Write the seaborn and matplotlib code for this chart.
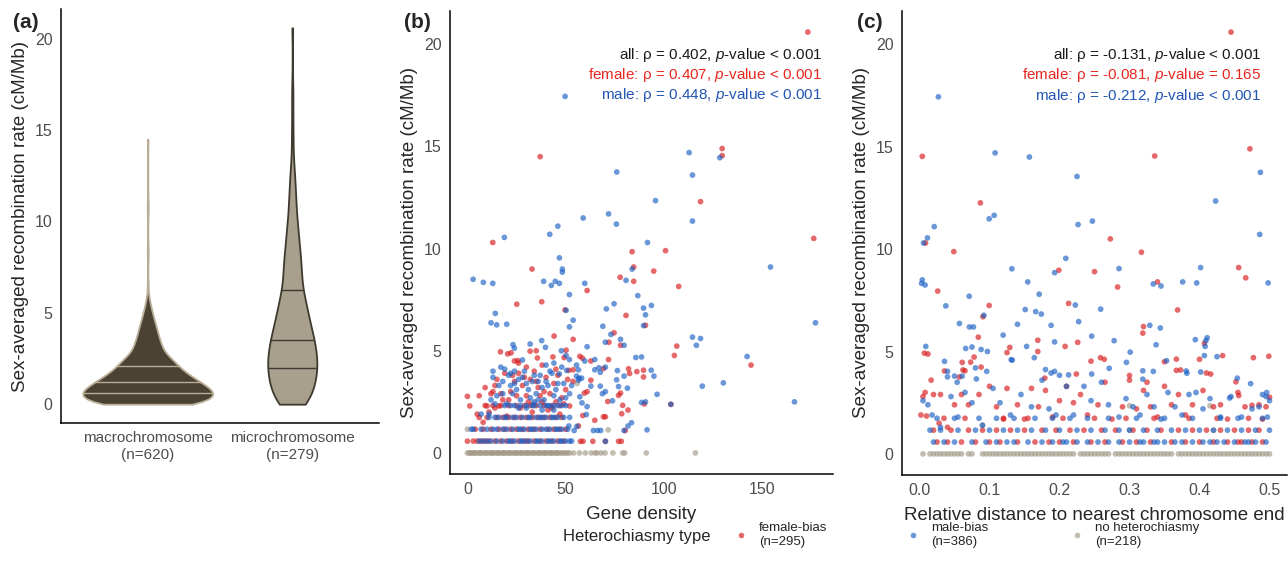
import numpy as np
import pandas as pd
import matplotlib
matplotlib.use("Agg")
import matplotlib.pyplot as plt
import seaborn as sns

sns.set_style("white")
plt.rcParams['font.family'] = ['Liberation Sans', 'DejaVu Sans']
plt.rcParams['mathtext.fontset'] = 'custom'
plt.rcParams['mathtext.rm'] = 'Liberation Sans'
plt.rcParams['mathtext.it'] = 'Liberation Sans:italic'

# ---- panel (a): violin data, value levels and how many windows sit at each
macro_levels = [0.0, 0.3, 0.6, 0.9, 1.2, 1.5, 1.8, 2.1, 2.4, 2.7, 3.0, 3.3, 3.6, 3.9, 4.2, 4.5, 4.8, 5.1, 5.4,
                5.7, 6.0, 6.6, 8.0, 8.6, 10.5, 11.0, 14.5]
macro_counts = [70, 73, 78, 70, 58, 51, 39, 34, 30, 20, 17, 15, 13, 11, 10, 8, 6, 5, 3, 2, 1, 1, 1, 1, 1, 1, 1]
micro_levels = [0.0, 0.5, 1.0, 1.5, 2.0, 2.5, 3.0, 3.5, 4.0, 4.5, 5.0, 5.5, 6.0, 6.5, 7.0, 7.5, 8.0, 8.5, 9.0,
                9.5, 10.0, 10.5, 11.0, 11.5, 12.0, 12.5, 13.0, 14.0, 14.6, 15.5, 16.5, 17.4, 20.6]
micro_counts = [15, 16, 18, 19, 21, 20, 19, 18, 16, 14, 12, 12, 9, 7, 8, 7, 7, 6, 5, 5, 4, 3, 3, 3, 2, 2, 2,
                1, 1, 1, 1, 1, 1]
chrom_labels = ["macrochromosome\n(n=620)", "microchromosome\n(n=279)"]

# ---- panel (b): gene density vs recombination rate
b_female = [(173.2,20.6),(37,14.5),(129.6,14.9),(129.6,14.55),(118.6,12.3),(12.9,10.3),(176.2,10.5),(83.8,9.85),
            (100.8,9.9),(32.9,9.0),(84.6,9.1),(77.7,8.6),(84.6,8.4),(94.8,8.9),(60.9,7.95),(107.5,8.15),(25.1,7.28),
            (37.8,7.4),(49.7,7.0),(80.7,6.73),(90.6,6.25),(74.6,5.88),(77.9,5.27),(72,5.42),(53.8,5.56),(44.1,5.72),
            (31.9,4.98),(35,5.0),(35.6,4.65),(16.8,4.95),(20.5,4.85),(22.2,4.9),(23.9,4.5),(25.6,4.52),(43.5,4.7),
            (50.2,5.03),(49.2,4.67),(57.2,4.73),(58.5,4.64),(62.8,4.5),(71.8,4.57),(86.2,3.98),(89.6,4.05),(89.6,3.72),
            (82,4.12),(82.5,3.89),(105.3,4.77),(106.5,5.23),(144.3,4.3),(103.5,2.38),(90,2.4),(79,2.33),(78.5,1.92),
            (81.7,2.1),(80.3,1.1),(76.9,2.82),(77.9,2.93),(69.2,4.13),(62.8,3.56),(71.4,2.52),(69.2,1.77),(70.2,1.77),
            (64.8,1.6),(70.2,0.57),(63.8,0.57),(58.8,0.57),(57.5,0.57),(76.9,0.57),(78.3,0.57),(58.7,1.83),(56.5,1.32),
            (60.9,3.0),(59.5,2.93),(53.7,3.5),(53.8,4.07),(51.6,4.04),(0,2.77),(1.2,2.3),(0,0.58),
            (5,1.9),(8,1.5),(10,2.3),(12,2.9),(13,3.0),(14,3.3),(16,2.3),(18,2.6),(20,1.8),(22,3.0),(24,3.5),(26,3.9),
            (28,3.3),(30,2.8),(32,3.6),(34,4.0),(36,3.2),(38,2.5),(40,3.7),(42,2.9),(44,3.4),(46,3.8),(48,2.7),(50,3.1),
            (52,2.3),(19,3.9),(27,2.2),(33,2.0),(37,2.8),(41,2.1),(45,2.5),(47,1.9),
            (6,2.8),(9,3.2),(11,2.0),(15,3.6),(17,2.9),(21,2.6),(23,3.8),(25,2.8),(29,3.7),(31,2.5),(35,3.5),(39,3.0),
            (43,2.2),(45,4.1),(49,2.4),(51,3.6),(26,4.4),(30,4.2),(14,2.2),(38,4.3),
            (3,0.58),(5,0.58),(7,0.58),(9,0.58),(11,0.58),(14,0.58),(17,0.58),(20,0.58),(23,0.58),(26,0.58),(29,0.58),
            (31,0.58),(34,0.58),(37,0.58),(40,0.58),(43,0.58),(46,0.58),(49,0.58),
            (4,1.16),(8,1.16),(12,1.16),(16,1.16),(19,1.16),(22,1.16),(25,1.16),(28,1.16),(31,1.16),(34,1.16),(37,1.16),
            (41,1.16),(44,1.16),(47,1.16),(50,1.16),
            (6,1.74),(10,1.74),(15,1.74),(18,1.74),(21,1.74),(24,1.74),(27,1.74),(30,1.74),(33,1.74),(36,1.74),(39,1.74),
            (42,1.74),(45,1.74),(48,1.74),
            (9,2.32),(13,2.32),(17,2.32),(21,2.32),(25,2.32),(29,2.32),(32,2.32),(35,2.32),(39,2.32),(43,2.32),(47,2.32)]
b_male = [(49.7,17.45),(112.8,14.7),(128.4,14.45),(76,13.75),(114.5,13.6),(95.7,12.35),(58.9,11.5),(71.8,11.7),
          (75.8,11.2),(114.5,11.35),(46,11.1),(41.9,10.7),(18.8,10.55),(91.6,10.3),(46.8,9.55),(154.2,9.1),(48.3,9.0),
          (48.3,8.85),(83.8,9.0),(80.7,8.45),(2.9,8.5),(8.1,8.35),(12.9,8.3),(38.8,8.4),(44.7,8.4),(42.7,8.2),(46.8,8.3),
          (59.7,8.3),(51.9,7.75),(86.7,7.7),(177.1,6.37),(14.2,6.83),(12,6.37),(14.9,6.27),(20,6.3),(50.2,6.98),
          (53.8,6.5),(51.9,6.17),(74.6,7.3),(70.7,7.05),(68.9,6.2),(89.6,7.09),(90.6,6.76),(93.6,7.22),(89.6,6.23),
          (73,5.8),(77.9,5.56),(79.7,5.27),(70.2,5.42),(37.8,5.5),(39.7,5.17),(31.9,5.33),(23.2,5.3),(23.9,5.13),
          (28,4.55),(47.8,5.0),(50.2,4.77),(51.9,4.57),(59.7,4.5),(60.9,5.2),(64.8,4.57),(85.7,4.67),(88.6,4.7),
          (93.5,4.05),(94.9,3.76),(79.7,3.76),(81.4,3.17),(114.5,5.67),(118.6,5.6),(116.5,5.27),(119.5,3.27),
          (130.2,3.43),(142.3,4.72),(166.4,2.5),(103.5,2.38),(96.5,2.87),(91.4,1.13),(90.6,2.5),(88.6,2.47),
          (83.5,1.48),(81.7,1.32),(79.7,1.1),(76.9,3.25),(75.9,3.58),(76.3,4.03),(70.2,4.2),(64.8,4.07),(67.6,3.95),
          (66.9,4.17),(62.8,3.27),(67.6,3.27),(68.7,2.9),(70.2,3.0),(73.8,2.55),(66.2,1.1),(67.8,1.1),(64.1,1.1),
          (70.2,0.57),(60.9,2.27),(60.5,1.88),(54.3,1.1),(55.7,1.3),(51.6,1.32),(57.2,2.75),(58.3,2.45),(56.5,3.56),
          (55.5,3.76),(56.8,3.66),(58.1,3.66),(55.5,4.3),(56.5,4.07),(50.5,4.04),(46.8,3.87),
          (3,1.16),(13,4.0),(13,3.7),(17,4.2),(18,3.5),(19,4.1),(21,3.8),(22,3.3),(24,4.0),(26,3.6),(29,4.0),(31,3.1),
          (33,3.5),(35,2.9),(37,3.8),(39,2.6),(41,3.3),(43,3.9),(45,3.1),(47,2.6),(49,3.4),(52,2.9),(15,2.8),(20,2.4),
          (23,2.9),(27,2.6),(30,3.4),(34,2.5),(38,3.2),(42,2.3),(44,2.8),(36,3.5),(25,3.1),(11,1.9),(7,1.9),(40,4.3),
          (44,4.4),
          (14,2.4),(16,3.3),(18,2.9),(22,3.9),(26,2.2),(28,3.7),(32,2.7),(34,3.8),(36,2.6),(40,3.5),(42,4.0),(46,3.4),
          (48,4.2),(50,2.7),(53,3.3),(12,2.6),(24,3.4),(30,2.2),(38,2.1),(44,2.1),
          (6,0.58),(8,0.58),(10,0.58),(12,0.58),(15,0.58),(18,0.58),(21,0.58),(22,0.58),(24,0.58),(27,0.58),(28,0.58),
          (30,0.58),(32,0.58),(35,0.58),(36,0.58),(38,0.58),(41,0.58),(42,0.58),(44,0.58),(47,0.58),(48,0.58),
          (50,0.58),(52,0.58),(53,0.58),
          (2,1.16),(7,1.16),(10,1.16),(13,1.16),(15,1.16),(18,1.16),(20,1.16),(23,1.16),(26,1.16),(27,1.16),(29,1.16),
          (32,1.16),(33,1.16),(35,1.16),(38,1.16),(40,1.16),(42,1.16),(45,1.16),(46,1.16),(48,1.16),(51,1.16),
          (11,1.74),(14,1.74),(16,1.74),(19,1.74),(20,1.74),(23,1.74),(25,1.74),(28,1.74),(31,1.74),(32,1.74),
          (35,1.74),(37,1.74),(38,1.74),(40,1.74),(43,1.74),(44,1.74),(46,1.74),(49,1.74),(52,1.74),
          (19,2.32),(22,2.32),(24,2.32),(27,2.32),(30,2.32),(33,2.32),(34,2.32),(37,2.32),(40,2.32),(41,2.32),
          (44,2.32),(46,2.32),(48,2.32),(50,2.32)]
b_none = [(0,0),(1,0),(1.5,0),(2,0),(3,0),(3.5,0),(4,0),(5,0),(6,0),(6.5,0),(7,0),(8,0),(9,0),(9.5,0),(10,0),(11,0),
          (12,0),(12.5,0),(13,0),(14,0),(15,0),(15.5,0),(16,0),(17,0),(18,0),(18.5,0),(19,0),(20,0),(21,0),(21.5,0),
          (22,0),(23,0),(24,0),(24.5,0),(25,0),(26,0),(27,0),(27.5,0),(28,0),(29,0),(30,0),(30.5,0),(31,0),(32,0),
          (33,0),(33.5,0),(34,0),(35,0),(36,0),(36.5,0),(37,0),(38,0),(39,0),(39.5,0),(40,0),(41,0),(42,0),(42.5,0),
          (43,0),(44,0),(45,0),(45.5,0),(46,0),(47,0),(48,0),(49,0),(50,0),(51,0),(52,0),(54,0),(57,0),(60,0),(63,0),
          (65,0),(66,0),(68,0),(70,0),(74,0),(79,0),(80,0),(91,0),(116,0),
          (0,1.16),(33.4,2.43),(55.8,3.4),(71.6,1.13)]

# ---- panel (c): relative distance to nearest chromosome end vs recombination rate
c_female = [(0.445,20.6),(0.004,14.53),(0.336,14.55),(0.472,14.9),(0.087,12.26),(0.0086,10.3),(0.2726,10.5),
            (0.049,9.88),(0.317,9.85),(0.456,9.1),(0.199,8.97),(0.25,8.9),(0.466,8.6),(0.34,8.4),(0.283,8.15),
            (0.026,7.95),(0.0995,7.25),(0.0906,6.7),(0.213,7.35),(0.3687,7.03),(0.32,6.22),(0.319,5.9),(0.084,5.7),
            (0.169,5.55),(0.226,5.45),(0.407,5.4),(0.208,5.25),(0.125,4.95),(0.129,5.2),(0.169,5.0),(0.007,4.92),
            (0.012,4.88),(0.0357,4.05),(0.061,4.47),(0.062,4.1),(0.065,4.06),(0.057,3.76),(0.073,4.48),(0.078,4.73),
            (0.088,4.24),(0.0166,3.6),(0.179,3.7),(0.224,3.9),(0.245,4.53),(0.2585,4.7),(0.264,4.62),(0.3,3.83),
            (0.325,3.5),(0.35,4.5),(0.367,4.08),(0.373,4.1),(0.367,4.63),(0.4,4.62),(0.41,3.95),(0.416,3.9),
            (0.433,4.8),(0.477,4.7),(0.499,4.77),(0.452,3.52),(0.5,2.77),(0.456,2.85),(0.475,2.37),(0.495,2.3),
            (0.002,1.9),(0.01,1.85),(0.005,2.8),(0.008,3.0),(0.02,2.9),(0.03,2.9),(0.028,1.5),(0.04,1.3),(0.05,2.4),
            (0.06,2.9),(0.07,2.4),(0.085,2.9),(0.1,3.3),(0.11,2.3),(0.12,1.7),(0.125,3.2),(0.14,2.4),(0.15,1.7),
            (0.16,3.2),(0.17,2.3),(0.18,3.1),(0.19,1.8),(0.2,2.6),(0.21,3.3),(0.22,2.5),(0.23,2.9),(0.24,1.9),
            (0.255,2.4),(0.265,3.5),(0.275,1.7),(0.29,2.3),(0.3,3.6),(0.31,2.2),(0.32,3.1),(0.33,2.3),(0.34,1.8),
            (0.35,3.3),(0.36,2.4),(0.37,2.9),(0.38,1.9),(0.39,2.4),(0.405,3.1),(0.42,2.3),(0.43,2.4),(0.44,1.7),
            (0.455,3.0),(0.465,2.3),(0.485,2.4),(0.49,1.7),
            (0.025,0.58),(0.04,0.58),(0.06,0.58),(0.08,0.58),(0.1,0.58),(0.115,0.58),(0.14,0.58),(0.165,0.58),
            (0.185,0.58),(0.2,0.58),(0.22,0.58),(0.245,0.58),(0.265,0.58),(0.29,0.58),(0.31,0.58),(0.33,0.58),
            (0.36,0.58),(0.38,0.58),(0.4,0.58),(0.42,0.58),(0.44,0.58),(0.455,0.58),(0.46,0.58),(0.475,0.58),
            (0.49,0.58),
            (0.02,1.16),(0.045,1.16),(0.07,1.16),(0.09,1.16),(0.11,1.16),(0.13,1.16),(0.15,1.16),(0.175,1.16),
            (0.195,1.16),(0.215,1.16),(0.235,1.16),(0.26,1.16),(0.28,1.16),(0.305,1.16),(0.325,1.16),(0.345,1.16),
            (0.37,1.16),(0.39,1.16),(0.41,1.16),(0.43,1.16),(0.45,1.16),(0.47,1.16),(0.485,1.16),
            (0.035,1.74),(0.065,1.74),(0.12,1.74),(0.155,1.74),(0.205,1.74),(0.25,1.74),(0.295,1.74),(0.335,1.74),
            (0.385,1.74),(0.425,1.74),(0.47,1.74)]
c_male = [(0.027,17.44),(0.108,14.7),(0.157,14.5),(0.487,13.75),(0.225,13.55),(0.423,12.35),(0.0995,11.48),
          (0.1067,11.65),(0.2265,11.2),(0.247,11.37),(0.021,11.1),(0.0114,10.55),(0.0057,10.3),(0.486,10.72),
          (0.209,9.55),(0.132,9.04),(0.285,9.05),(0.4016,9.1),(0.193,8.85),(0.004,8.5),(0.003,8.33),(0.008,8.25),
          (0.1546,8.4),(0.334,8.3),(0.345,8.2),(0.376,8.4),(0.396,8.35),(0.498,8.35),(0.071,7.7),(0.171,7.8),
          (0.0376,7.23),(0.092,6.77),(0.151,7.05),(0.166,6.95),(0.174,6.83),(0.2226,7.27),(0.2274,6.46),
          (0.2588,7.07),(0.057,6.37),(0.0713,6.2),(0.077,6.2),(0.14,6.33),(0.188,6.28),(0.329,6.28),(0.344,6.15),
          (0.1195,5.8),(0.193,5.47),(0.246,5.75),(0.278,5.53),(0.394,5.58),(0.411,5.67),(0.409,5.53),(0.408,5.25),
          (0.338,5.33),(0.153,5.25),(0.131,4.6),(0.1325,4.58),(0.164,4.7),(0.097,5.0),(0.088,5.1),(0.075,5.22),
          (0.066,5.15),(0.009,5.25),(0.0357,4.52),(0.04,4.03),(0.04,3.76),(0.061,3.8),(0.05,3.8),(0.0538,3.5),
          (0.08,4.2),(0.096,4.03),(0.0813,3.66),(0.18,4.12),(0.188,3.95),(0.193,4.03),(0.2,3.84),(0.213,3.86),
          (0.246,3.9),(0.271,4.18),(0.2956,4.47),(0.301,4.97),(0.319,4.06),(0.319,3.65),(0.334,4.03),(0.353,4.55),
          (0.381,4.05),(0.382,3.94),(0.407,4.8),(0.4017,4.0),(0.425,4.75),(0.454,3.7),(0.473,3.43),(0.496,3.0),
          (0.495,2.8),(0.5,2.6),(0.443,2.73),(0.485,2.3),
          (0.005,2.6),(0.012,2.4),(0.018,1.9),(0.03,1.3),(0.045,2.8),(0.055,1.8),(0.065,3.0),(0.075,2.5),(0.09,1.4),
          (0.105,3.2),(0.115,2.5),(0.13,1.9),(0.145,2.9),(0.16,2.3),(0.175,3.6),(0.185,2.2),(0.195,1.9),(0.21,3.3),
          (0.22,1.9),(0.235,3.3),(0.245,2.6),(0.26,3.5),(0.27,2.4),(0.285,1.8),(0.295,2.7),(0.305,2.3),(0.315,1.9),
          (0.325,2.9),(0.335,2.3),(0.345,1.7),(0.355,3.0),(0.365,2.3),(0.375,1.9),(0.385,2.9),(0.395,3.0),
          (0.405,2.2),(0.415,2.7),(0.43,1.8),(0.445,2.8),(0.46,1.8),(0.475,2.2),(0.49,2.9),(0.497,1.8),
          (0.02,0.58),(0.035,0.58),(0.05,0.58),(0.075,0.58),(0.095,0.58),(0.11,0.58),(0.125,0.58),(0.135,0.58),
          (0.155,0.58),(0.175,0.58),(0.19,0.58),(0.205,0.58),(0.21,0.58),(0.225,0.58),(0.24,0.58),(0.255,0.58),
          (0.27,0.58),(0.285,0.58),(0.3,0.58),(0.315,0.58),(0.32,0.58),(0.335,0.58),(0.34,0.58),(0.35,0.58),
          (0.365,0.58),(0.375,0.58),(0.39,0.58),(0.405,0.58),(0.415,0.58),(0.425,0.58),(0.435,0.58),(0.45,0.58),
          (0.465,0.58),(0.47,0.58),(0.48,0.58),(0.495,0.58),
          (0.015,1.16),(0.03,1.16),(0.055,1.16),(0.08,1.16),(0.1,1.16),(0.12,1.16),(0.14,1.16),(0.16,1.16),
          (0.18,1.16),(0.2,1.16),(0.225,1.16),(0.245,1.16),(0.265,1.16),(0.285,1.16),(0.3,1.16),(0.32,1.16),
          (0.34,1.16),(0.36,1.16),(0.38,1.16),(0.4,1.16),(0.42,1.16),(0.44,1.16),(0.46,1.16),(0.48,1.16),(0.5,1.16),
          (0.025,1.74),(0.05,1.74),(0.085,1.74),(0.11,1.74),(0.135,1.74),(0.165,1.74),(0.19,1.74),(0.215,1.74),
          (0.24,1.74),(0.27,1.74),(0.31,1.74),(0.35,1.74),(0.39,1.74),(0.43,1.74),(0.455,1.74),(0.49,1.74)]
c_none = [(0.005,0),(0.015,0),(0.02,0),(0.025,0),(0.03,0),(0.035,0),(0.04,0),(0.045,0),(0.05,0),(0.055,0),(0.06,0),
          (0.07,0),(0.075,0),(0.09,0),(0.095,0),(0.1,0),(0.105,0),(0.11,0),(0.115,0),(0.12,0),(0.125,0),(0.13,0),
          (0.135,0),(0.14,0),(0.145,0),(0.15,0),(0.155,0),(0.16,0),(0.165,0),(0.17,0),(0.175,0),(0.18,0),(0.185,0),
          (0.19,0),(0.195,0),(0.2,0),(0.205,0),(0.21,0),(0.215,0),(0.22,0),(0.23,0),(0.235,0),(0.24,0),(0.245,0),
          (0.25,0),(0.255,0),(0.26,0),(0.265,0),(0.27,0),(0.28,0),(0.285,0),(0.29,0),(0.295,0),(0.3,0),(0.305,0),
          (0.31,0),(0.315,0),(0.32,0),(0.325,0),(0.33,0),(0.335,0),(0.34,0),(0.345,0),(0.35,0),(0.355,0),(0.36,0),
          (0.37,0),(0.375,0),(0.38,0),(0.385,0),(0.39,0),(0.395,0),(0.4,0),(0.405,0),(0.41,0),(0.415,0),(0.42,0),
          (0.425,0),(0.43,0),(0.435,0),(0.44,0),(0.445,0),(0.45,0),(0.455,0),(0.46,0),(0.465,0),(0.47,0),(0.475,0),
          (0.48,0),(0.485,0),(0.49,0),(0.495,0),(0.5,0),
          (0.09,1.4),(0.3,2.35),(0.415,2.35),(0.42,1.15),(0.3,1.16)]

type_names = ["female-bias", "male-bias", "no heterochiasmy"]
type_labels = ["female-bias\n(n=295)", "male-bias\n(n=386)", "no heterochiasmy\n(n=218)"]
type_colors = {"female-bias": "#d7191c", "male-bias": "#1a5fc4", "no heterochiasmy": "#a39a88"}

b_stats = ["all: \u03c1 = 0.402, $\\mathit{p}$-value < 0.001",
           "female: \u03c1 = 0.407, $\\mathit{p}$-value < 0.001",
           "male: \u03c1 = 0.448, $\\mathit{p}$-value < 0.001"]
c_stats = ["all: \u03c1 = -0.131, $\\mathit{p}$-value < 0.001",
           "female: \u03c1 = -0.081, $\\mathit{p}$-value = 0.165",
           "male: \u03c1 = -0.212, $\\mathit{p}$-value < 0.001"]
stat_colors = ["#1a1a1a", "#e8281f", "#2356b3"]


def points_frame(female, male, none):
    rows = []
    for name, pts in [("no heterochiasmy", none), ("female-bias", female), ("male-bias", male)]:
        for x, y in pts:
            rows.append((x, y, name))
    return pd.DataFrame(rows, columns=["x", "rate", "type"])


W, H = 1288, 579
fig = plt.figure(figsize=(W / 100, H / 100), dpi=100)


def px_axes(left, top, right, bottom):
    return fig.add_axes([left / W, 1 - bottom / H, (right - left) / W, (bottom - top) / H])


ax_a = px_axes(61, 9, 379, 423)
ax_b = px_axes(450, 11, 833, 474)
ax_c = px_axes(902, 11, 1287, 475)

# ---- violins: one call each so the thin microchromosome violin keeps its own smoothing,
# widths set so the two bodies compare by area as in the original
violin_specs = [
    (chrom_labels[0], macro_levels, macro_counts, "#4b4234", "#b9ad96", 0.9, 0.75),
    (chrom_labels[1], micro_levels, micro_counts, "#a89f8c", "#3f3a30", 0.34, 0.6),
]
for label, levels, counts, fill, line, wid, bwa in violin_specs:
    vio = pd.DataFrame({"chrom": [label] * sum(counts), "rate": np.repeat(levels, counts)})
    n_coll, n_lines = len(ax_a.collections), len(ax_a.lines)
    sns.violinplot(data=vio, x="chrom", y="rate", order=chrom_labels, color=fill, saturation=1,
                   inner="quart", cut=0, width=wid, bw_adjust=bwa, linewidth=1.3, linecolor=line, ax=ax_a)
    for coll in ax_a.collections[n_coll:]:
        coll.set_edgecolor(line)
    for ln in ax_a.lines[n_lines:]:
        ln.set_color(line)
        ln.set_linestyle("-")
        ln.set_linewidth(1.0)
ax_a.set_xlim(-0.6, 1.6)
ax_a.set_xlabel("")

# ---- scatters
df_b = points_frame(b_female, b_male, b_none)
df_c = points_frame(c_female, c_male, c_none)
sns.scatterplot(data=df_b, x="x", y="rate", hue="type", hue_order=type_names, palette=type_colors,
                s=17, alpha=0.65, linewidth=0, ax=ax_b, legend=True)
sns.scatterplot(data=df_c, x="x", y="rate", hue="type", hue_order=type_names, palette=type_colors,
                s=17, alpha=0.65, linewidth=0, ax=ax_c, legend=False)
handles, labels = ax_b.get_legend_handles_labels()
ax_b.legend_.remove()

ax_b.set_xlim(-8.86, 186.0)
ax_b.set_xticks([0, 50, 100, 150])
ax_b.set_xlabel("Gene density", fontsize=13.5, labelpad=6)
ax_c.set_xlim(-0.025, 0.525)
ax_c.set_xticks([0.0, 0.1, 0.2, 0.3, 0.4, 0.5])
ax_c.set_xticklabels(["0.0", "0.1", "0.2", "0.3", "0.4", "0.5"])
ax_c.set_xlabel("Relative distance to nearest chromosome end", fontsize=13.5, labelpad=6)

for ax, stats, xr in [(ax_b, b_stats, 180.5), (ax_c, c_stats, 0.488)]:
    for k, (s, col) in enumerate(zip(stats, stat_colors)):
        ax.text(xr, 19.5 - k * 1.0, s, color=col, ha="right", va="center", fontsize=11)

for ax in (ax_a, ax_b, ax_c):
    ax.set_ylim(-1.03, 21.63)
    ax.set_yticks([0, 5, 10, 15, 20])
    ax.set_ylabel("Sex-averaged recombination rate (cM/Mb)", fontsize=13.5, labelpad=4)
    for side in ("top", "right"):
        ax.spines[side].set_visible(False)
    for side in ("left", "bottom"):
        ax.spines[side].set_color("black")
        ax.spines[side].set_linewidth(1.1)
    ax.tick_params(direction="out", length=4, width=0.9, color="#333333",
                   labelcolor="#4d4d4d", labelsize=11.5, pad=2)
ax_a.tick_params(axis="x", labelsize=11)

for lab, xpx in [("(a)", 13), ("(b)", 404), ("(c)", 857)]:
    fig.text(xpx / W, 1 - 22 / H, lab, fontsize=15, fontweight="bold", ha="left", va="center")

# ---- legend strip
fig.text(563 / W, 1 - 536 / H, "Heterochiasmy type", fontsize=12, ha="left", va="center")
for h, lab, xpx in zip(handles, type_labels, [734, 906, 1070]):
    h.set_markersize(4)
    h.set_alpha(0.65)
    fig.legend([h], [lab], loc="center left", bbox_to_anchor=(xpx / W, 1 - 535 / H), frameon=False,
               fontsize=9.5, handlelength=1.0, handletextpad=0.9, borderpad=0, borderaxespad=0)

fig.savefig("out.png", dpi=100)
